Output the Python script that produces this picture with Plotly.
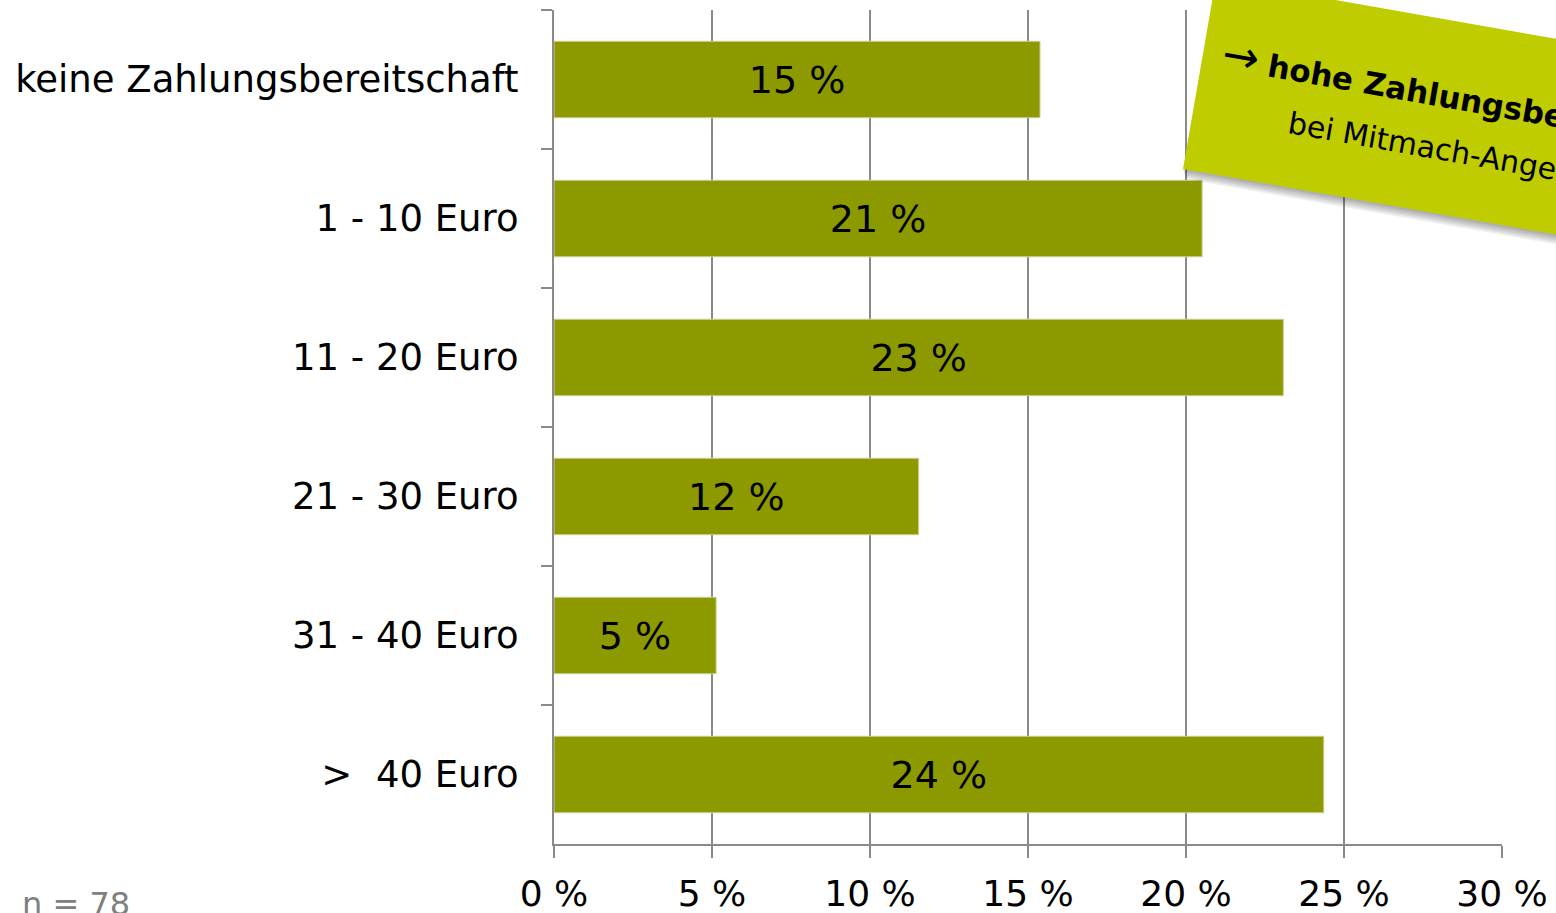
import plotly.graph_objects as go

# Zahlungsbereitschaft (Anteil der Befragten in %, n = 78)
categories = [
    "keine Zahlungsbereitschaft",
    "1 - 10 Euro",
    "11 - 20 Euro",
    "21 - 30 Euro",
    "31 - 40 Euro",
    ">\u00a0\u00a040 Euro",
]
shares = [15.38, 20.51, 23.08, 11.54, 5.13, 24.36]
x_ticks = [0, 5, 10, 15, 20, 25, 30]
x_tick_labels = ["0 %", "5 %", "10 %", "15 %", "20 %", "25 %", "30 %"]
note_text = "n = 78"
box_line1 = "<span style='font-size:44px;font-weight:normal'>\u2192</span> <b>hohe Zahlungsbereitschaft</b>"
box_line2 = "bei Mitmach-Angeboten"

W, H = 1556, 913
L, R, T, B = 554, 54, 10, 69
FONT = "Verdana, DejaVu Sans, sans-serif"
BAR = "#8c9a00"
BOX = "#bfcd00"
AXIS = "#8a8a8a"


def px(x, y):
    # pixel position -> paper coordinates
    return (x - L) / (W - L - R), (H - B - y) / (H - T - B)


def poly(points):
    parts = []
    for i, (x, y) in enumerate(points):
        a, b = px(x, y)
        parts.append(("M" if i == 0 else "L") + f"{a:.4f},{b:.4f}")
    return " ".join(parts) + " Z"


fig = go.Figure()

fig.add_trace(go.Bar(
    y=categories,
    x=shares,
    orientation="h",
    marker=dict(color=BAR, line=dict(color="#c9cf99", width=1)),
    texttemplate="%{x:.0f} %",
    textposition="inside",
    insidetextanchor="middle",
    textfont=dict(family=FONT, size=38, color="black"),
    constraintext="none",
    hoverinfo="skip",
))

# rotated note box (~10 deg), soft shadow underneath
box = [(1216, -21), (1807, 83), (1774, 273), (1183, 169)]
shapes = []
for dx, dy in [(2, 10), (2, 8), (1, 6), (1, 4), (0, 2)]:
    shapes.append(dict(
        type="path", xref="paper", yref="paper",
        path=poly([(x + dx, y + dy) for x, y in box]),
        fillcolor="rgba(0,0,0,0.07)", line=dict(width=0),
    ))
shapes.append(dict(
    type="path", xref="paper", yref="paper",
    path=poly(box), fillcolor=BOX, line=dict(width=0),
))

annotations = []
ax, ay = px(1478, 97)
annotations.append(dict(
    xref="paper", yref="paper", x=ax, y=ay, xanchor="center", yanchor="middle",
    text=box_line1, textangle=10, showarrow=False,
    font=dict(family=FONT, size=31, color="black"),
))
ax, ay = px(1465, 153)
annotations.append(dict(
    xref="paper", yref="paper", x=ax, y=ay, xanchor="center", yanchor="middle",
    text=box_line2, textangle=10, showarrow=False,
    font=dict(family=FONT, size=30, color="black"),
))
ax, ay = px(20, 883)
annotations.append(dict(
    xref="paper", yref="paper", x=ax, y=ay, xanchor="left", yanchor="top",
    text=note_text, showarrow=False,
    font=dict(family=FONT, size=32, color="#808080"),
))

fig.update_layout(
    width=W,
    height=H,
    margin=dict(l=L, r=R, t=T, b=B, autoexpand=False),
    plot_bgcolor="white",
    paper_bgcolor="white",
    showlegend=False,
    bargap=0.45,
    font=dict(family=FONT, size=37, color="black"),
    shapes=shapes,
    annotations=annotations,
    xaxis=dict(
        range=[0, 30],
        tickvals=x_ticks,
        ticktext=x_tick_labels,
        showgrid=True,
        gridcolor=AXIS,
        gridwidth=2,
        zeroline=False,
        showline=True,
        linecolor=AXIS,
        linewidth=2,
        ticks="outside",
        ticklen=12,
        tickwidth=2,
        tickcolor=AXIS,
        ticklabelstandoff=5,
        tickfont=dict(family=FONT, size=36, color="black"),
    ),
    yaxis=dict(
        autorange="reversed",
        showgrid=False,
        showline=True,
        linecolor=AXIS,
        linewidth=2,
        ticks="outside",
        tickson="boundaries",
        ticklen=11,
        tickwidth=2,
        tickcolor=AXIS,
        ticklabelstandoff=26,
        tickfont=dict(family=FONT, size=37, color="black"),
    ),
)

# the chart fills the whole window, so drop the page's default body margin
fig.write_html(
    "out.html",
    config={"displayModeBar": False},
    post_script="document.body.style.margin = '0';",
)
